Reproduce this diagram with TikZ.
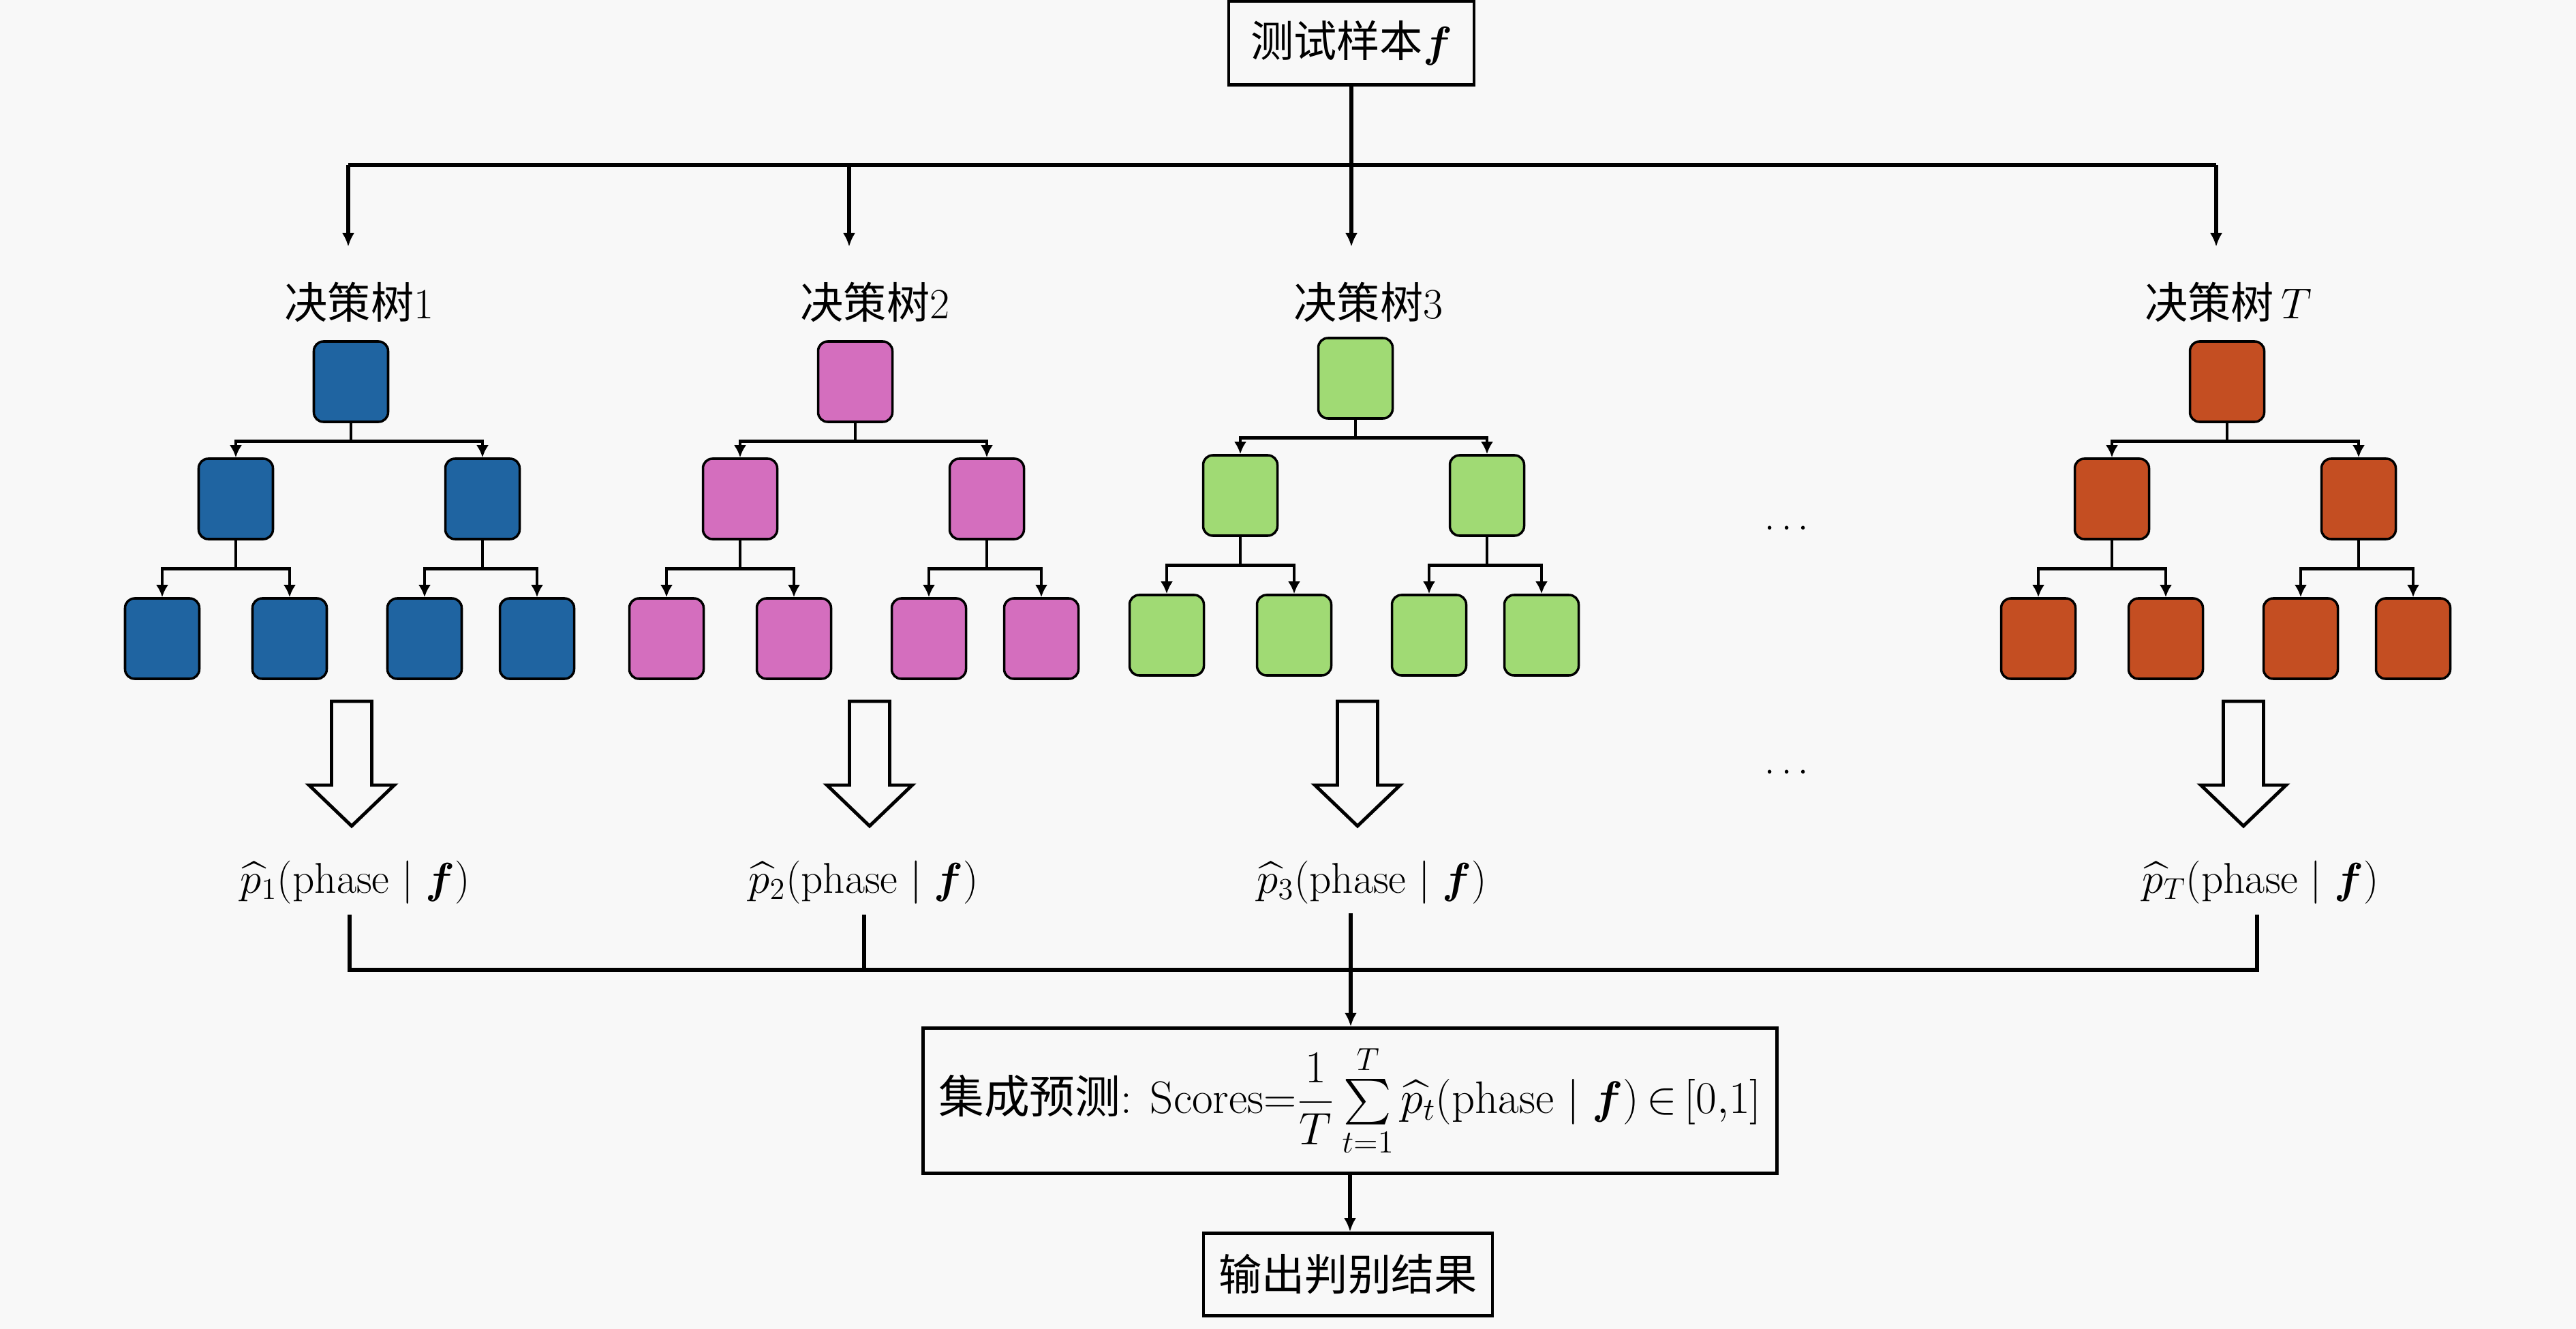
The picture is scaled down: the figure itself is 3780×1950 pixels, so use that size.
\RequirePackage{fix-cm}
\documentclass[tikz,border=0pt]{standalone}
\usepackage{amsmath,amssymb}
\usepackage{fontspec}
\newfontfamily\cjk{Noto Sans CJK SC}
\usetikzlibrary{arrows.meta,calc}
\definecolor{bg}{HTML}{F8F8F8}
\definecolor{tblue}{HTML}{1F64A1}
\definecolor{tpink}{HTML}{D46EBE}
\definecolor{tgreen}{HTML}{A0DA74}
\definecolor{torange}{HTML}{C44E22}
\begin{document}
\begin{tikzpicture}[x=0.1mm,y=-0.1mm,
  every node/.style={font=\fontsize{18}{22}\selectfont},
  tbox/.style={draw=black, line width=1pt, rounded corners=1.4mm, minimum width=10.9mm, minimum height=11.8mm, inner sep=0pt},
  conn/.style={line width=1.5pt},
  tarr/.style={line width=1.4pt,-{Latex[length=1.8mm,width=1.8mm]}},
  marr/.style={line width=1.5pt,-{Latex[length=2mm,width=1.8mm]}},
  plainbox/.style={draw, line width=1.3pt, inner sep=0pt},
  lab/.style={inner sep=0pt, anchor=base},
  hollow/.style={line width=1.4pt, fill=bg, line join=miter},
]
\fill[bg] (0,0) rectangle (3780,1950);
\useasboundingbox (0,0) rectangle (3780,1950);

% top
\node[plainbox, minimum width=36mm, minimum height=12.3mm] (top) at (1983,63) {{\cjk 测试样本}$\boldsymbol{f}$};
\coordinate (bus) at (1983,242);
\foreach \n/\x in {1/511,2/1246,3/1983,4/3252} \coordinate (a\n) at (\x,362);
\draw[conn] (a1 |- bus) -- (a4 |- bus);
\draw[marr] (top.south) -- (a3);
\foreach \n in {1,2,4} \draw[marr] (a\n |- bus) -- (a\n);

% titles
\node (h1) at (527,443) {{\cjk 决策树}1};
\node (h2) at (1284,443) {{\cjk 决策树}2};
\node (h3) at (2008,443) {{\cjk 决策树}3};
\node (h4) at (3270,443) {{\cjk 决策树}\,$T$};

% trees
\foreach \i/\dx/\dy/\col in {1/0/0/tblue,2/740/0/tpink,3/1474/-5/tgreen,4/2753/0/torange}{
  \begin{scope}[shift={(\dx,\dy)}]
    \node[tbox, fill=\col] (t\i r) at (515,560) {};
    \node[tbox, fill=\col] (t\i a) at (346,732) {};
    \node[tbox, fill=\col] (t\i b) at (708,732) {};
    \node[tbox, fill=\col] (t\i aa) at (238,937) {};
    \node[tbox, fill=\col] (t\i ab) at (425,937) {};
    \node[tbox, fill=\col] (t\i ba) at (623,937) {};
    \node[tbox, fill=\col] (t\i bb) at (788,937) {};
    \draw[tarr] (t\i r.south) -- ++(0,27) -| (t\i a.north);
    \draw[tarr] (t\i r.south) -- ++(0,27) -| (t\i b.north);
    \draw[tarr] (t\i a.south) -- ++(0,42) -| (t\i aa.north);
    \draw[tarr] (t\i a.south) -- ++(0,42) -| (t\i ab.north);
    \draw[tarr] (t\i b.south) -- ++(0,42) -| (t\i ba.north);
    \draw[tarr] (t\i b.south) -- ++(0,42) -| (t\i bb.north);
  \end{scope}
}

% ellipses
\node[inner sep=0pt, font=\fontsize{16}{20}\selectfont] (e1) at (2622,775) {$\ldots$};
\node[inner sep=0pt, font=\fontsize{16}{20}\selectfont] (e2) at (2622,1133) {$\ldots$};

% hollow arrows
\foreach \c in {516,1276,1992,3292}
  \draw[hollow] ({\c-29.5},1029) -- ({\c+29.5},1029) -- ({\c+29.5},1152) -- ({\c+62.5},1152)
     -- (\c,1212) -- ({\c-62.5},1152) -- ({\c-29.5},1152) -- cycle;

% labels
\node[lab] (p1) at (521,1310) {$\widehat{p}_1(\mathrm{phase}\mid\boldsymbol{f})$};
\node[lab] (p2) at (1267,1310) {$\widehat{p}_2(\mathrm{phase}\mid\boldsymbol{f})$};
\node[lab] (p3) at (2013,1310) {$\widehat{p}_3(\mathrm{phase}\mid\boldsymbol{f})$};
\node[lab] (p4) at (3317,1310) {$\widehat{p}_T(\mathrm{phase}\mid\boldsymbol{f})$};

% merge
\foreach \n/\x in {1/513,2/1268,4/3312} \coordinate (m\n) at (\x,1342);
\coordinate (m3) at (1982,1340);
\coordinate (mbus) at (1982,1423);
\draw[conn] (m1) -- (m1 |- mbus) -- (m4 |- mbus) -- (m4);
\draw[conn] (m2) -- (m2 |- mbus);

\node[plainbox, minimum width=125.3mm, minimum height=21.3mm, font=\fontsize{19}{23}\selectfont] (ens) at (1981,1615)
  {{\cjk 集成预测}: Scores$\displaystyle{=}\frac{1}{T}\textstyle\sum\limits_{t=1}^{T}\widehat{p}_t(\mathrm{phase}\mid\boldsymbol{f})\,{\in}\,[0{,}1]$};
\draw[marr] (m3) -- (m3 |- ens.north);

\node[plainbox, minimum width=42.4mm, minimum height=12.1mm] (out) at (1978,1870) {\cjk 输出判别结果};
\draw[marr] (ens.south) -- (ens.south |- out.north);
\end{tikzpicture}
\end{document}
